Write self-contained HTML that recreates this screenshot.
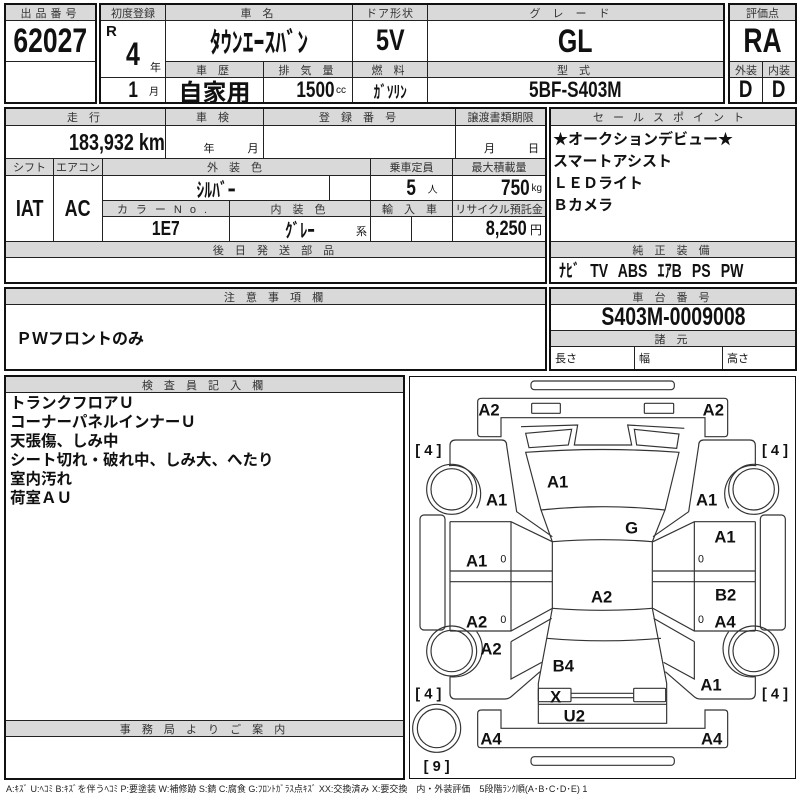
<!DOCTYPE html>
<html><head><meta charset="utf-8"><style>
*{margin:0;padding:0}
body{width:800px;height:800px;background:#fff;position:relative;overflow:hidden;font-family:"Liberation Sans","Noto Sans CJK JP",sans-serif;color:#111}
.b{position:absolute;border:1px solid #222;box-sizing:border-box;display:flex;align-items:center;justify-content:center;overflow:hidden;white-space:nowrap;background:#fff}
.h{background:#d9d9d9;font-size:11px;color:#333;letter-spacing:4px}
.v{font-weight:bold}
.n{display:inline-block;transform:scaleX(.78);font-weight:bold}
.o{position:absolute;border:2px solid #111;box-sizing:border-box;pointer-events:none}
.s{font-size:10px;font-weight:normal;margin-left:2px}
</style></head><body>
<!-- top left -->
<div class="b h" style="left:5px;top:4px;width:91px;height:17px">出品番号</div>
<div class="b v" style="left:5px;top:20px;width:91px;height:42px;font-size:34px"><span class="n">62027</span></div>
<div class="b" style="left:5px;top:61px;width:91px;height:42px"></div>
<div class="o" style="left:4px;top:3px;width:93px;height:101px"></div>
<!-- box2 -->
<div class="b h" style="left:100px;top:4px;width:66px;height:17px;letter-spacing:0">初度登録</div>
<div class="b h" style="left:165px;top:4px;width:188px;height:17px">車 名</div>
<div class="b h" style="left:352px;top:4px;width:76px;height:17px;letter-spacing:1px">ドア形状</div>
<div class="b h" style="left:427px;top:4px;width:297px;height:17px;letter-spacing:12px">グレード</div>
<div class="b" style="left:100px;top:20px;width:66px;height:58px"><span class="v" style="position:absolute;left:5px;top:2px;font-size:15px">R</span><span class="n" style="font-size:32px;margin-top:10px">4</span><span style="position:absolute;right:4px;bottom:2px;font-size:11px">年</span></div>
<div class="b v" style="left:165px;top:20px;width:188px;height:42px;font-size:28px"><span class="n">ﾀｳﾝｴｰｽﾊﾞﾝ</span></div>
<div class="b v" style="left:352px;top:20px;width:76px;height:42px;font-size:30px"><span class="n">5V</span></div>
<div class="b v" style="left:427px;top:20px;width:297px;height:42px;font-size:32px"><span class="n">GL</span></div>
<div class="b h" style="left:165px;top:61px;width:99px;height:17px">車 歴</div>
<div class="b h" style="left:263px;top:61px;width:90px;height:17px">排 気 量</div>
<div class="b h" style="left:352px;top:61px;width:76px;height:17px">燃 料</div>
<div class="b h" style="left:427px;top:61px;width:297px;height:17px">型 式</div>
<div class="b" style="left:100px;top:77px;width:66px;height:26px;justify-content:flex-end;padding-right:6px"><span class="n" style="font-size:22px">1</span><span class="s" style="margin-left:10px">月</span></div>
<div class="b v" style="left:165px;top:77px;width:99px;height:26px;font-size:24px">自家用</div>
<div class="b" style="left:263px;top:77px;width:90px;height:26px;justify-content:flex-end;padding-right:6px"><span class="n" style="font-size:22px;margin-right:-6px">1500</span><span class="s">cc</span></div>
<div class="b v" style="left:352px;top:77px;width:76px;height:26px;font-size:17px"><span class="n">ｶﾞｿﾘﾝ</span></div>
<div class="b v" style="left:427px;top:77px;width:297px;height:26px;font-size:22px"><span class="n">5BF-S403M</span></div>
<div class="o" style="left:99px;top:3px;width:626px;height:101px"></div>
<!-- eval -->
<div class="b h" style="left:729px;top:4px;width:67px;height:17px;letter-spacing:0">評価点</div>
<div class="b v" style="left:729px;top:20px;width:67px;height:42px;font-size:34px"><span class="n">RA</span></div>
<div class="b h" style="left:729px;top:61px;width:34px;height:17px;letter-spacing:0">外装</div>
<div class="b h" style="left:762px;top:61px;width:34px;height:17px;letter-spacing:0">内装</div>
<div class="b v" style="left:729px;top:77px;width:34px;height:26px;font-size:24px"><span class="n">D</span></div>
<div class="b v" style="left:762px;top:77px;width:34px;height:26px;font-size:24px"><span class="n">D</span></div>
<div class="o" style="left:728px;top:3px;width:69px;height:101px"></div>
<!-- block 2 -->
<div class="b h" style="left:5px;top:108px;width:161px;height:18px">走 行</div>
<div class="b h" style="left:165px;top:108px;width:99px;height:18px">車 検</div>
<div class="b h" style="left:263px;top:108px;width:193px;height:18px">登 録 番 号</div>
<div class="b h" style="left:455px;top:108px;width:91px;height:18px;letter-spacing:0">譲渡書類期限</div>
<div class="b" style="left:5px;top:125px;width:161px;height:34px;justify-content:flex-end;padding-right:0"><span class="n" style="font-size:23px;transform-origin:right">183,932 km</span></div>
<div class="b" style="left:165px;top:125px;width:99px;height:34px;align-items:flex-end;font-size:11px;padding-bottom:2px">　　　年　　　月</div>
<div class="b" style="left:263px;top:125px;width:193px;height:34px"></div>
<div class="b" style="left:455px;top:125px;width:91px;height:34px;align-items:flex-end;font-size:11px;padding-bottom:2px">　　月　　　日</div>
<div class="b h" style="left:5px;top:158px;width:49px;height:18px;letter-spacing:0">シフト</div>
<div class="b h" style="left:53px;top:158px;width:50px;height:18px;letter-spacing:0">エアコン</div>
<div class="b h" style="left:102px;top:158px;width:269px;height:18px">外 装 色</div>
<div class="b h" style="left:370px;top:158px;width:83px;height:18px;letter-spacing:0">乗車定員</div>
<div class="b h" style="left:452px;top:158px;width:94px;height:18px;letter-spacing:0">最大積載量</div>
<div class="b v" style="left:5px;top:175px;width:49px;height:67px;font-size:23px"><span class="n">IAT</span></div>
<div class="b v" style="left:53px;top:175px;width:50px;height:67px;font-size:23px"><span class="n">AC</span></div>
<div class="b v" style="left:102px;top:175px;width:228px;height:26px;font-size:20px"><span class="n">ｼﾙﾊﾞｰ</span></div>
<div class="b" style="left:329px;top:175px;width:42px;height:26px"></div>
<div class="b" style="left:370px;top:175px;width:83px;height:26px"><span class="n" style="font-size:22px;margin-left:20px">5</span><span class="s" style="margin-left:10px">人</span></div>
<div class="b" style="left:452px;top:175px;width:94px;height:26px;justify-content:flex-end;padding-right:3px"><span class="n" style="font-size:22px;margin-right:-4px">750</span><span class="s">kg</span></div>
<div class="b h" style="left:102px;top:200px;width:128px;height:17px;letter-spacing:8px">カラーNo.</div>
<div class="b h" style="left:229px;top:200px;width:142px;height:17px">内 装 色</div>
<div class="b h" style="left:370px;top:200px;width:83px;height:17px">輸 入 車</div>
<div class="b h" style="left:452px;top:200px;width:94px;height:17px;letter-spacing:0">リサイクル預託金</div>
<div class="b v" style="left:102px;top:216px;width:128px;height:26px;font-size:20px"><span class="n">1E7</span></div>
<div class="b" style="left:229px;top:216px;width:142px;height:26px"><span class="n" style="font-size:19px">ｸﾞﾚｰ</span><span style="position:absolute;right:3px;bottom:2px;font-size:11px">系</span></div>
<div class="b" style="left:370px;top:216px;width:42px;height:26px"></div>
<div class="b" style="left:411px;top:216px;width:42px;height:26px"></div>
<div class="b" style="left:452px;top:216px;width:94px;height:26px;justify-content:flex-end;padding-right:3px"><span class="n" style="font-size:21px;margin-right:-5px">8,250</span><span class="s" style="font-size:12px">円</span></div>
<div class="b h" style="left:5px;top:241px;width:541px;height:17px">後 日 発 送 部 品</div>
<div class="b" style="left:5px;top:257px;width:541px;height:26px"></div>
<div class="o" style="left:4px;top:107px;width:543px;height:177px"></div>
<!-- sales point -->
<div class="b h" style="left:550px;top:108px;width:246px;height:18px;letter-spacing:9px">セールスポイント</div>
<div class="b" style="left:550px;top:125px;width:246px;height:117px;display:block;font-weight:bold;font-size:15px;line-height:22px;padding:3px 0 0 2px">★オークションデビュー★<br>スマートアシスト<br>ＬＥＤライト<br>Ｂカメラ</div>
<div class="b h" style="left:550px;top:241px;width:246px;height:17px">純 正 装 備</div>
<div class="b" style="left:550px;top:257px;width:246px;height:26px;justify-content:flex-start;padding-left:8px"><span class="n" style="font-size:18px;transform-origin:left;word-spacing:8px">ﾅﾋﾞ TV ABS ｴｱB PS PW</span></div>
<div class="o" style="left:549px;top:107px;width:248px;height:177px"></div>
<!-- caution -->
<div class="b h" style="left:5px;top:288px;width:541px;height:17px">注 意 事 項 欄</div>
<div class="b" style="left:5px;top:304px;width:541px;height:66px;justify-content:flex-start;padding-left:10px;font-weight:bold;font-size:16px">ＰＷフロントのみ</div>
<div class="o" style="left:4px;top:287px;width:543px;height:84px"></div>
<div class="b h" style="left:550px;top:288px;width:246px;height:17px">車 台 番 号</div>
<div class="b v" style="left:550px;top:304px;width:246px;height:27px;font-size:25px"><span class="n">S403M-0009008</span></div>
<div class="b h" style="left:550px;top:330px;width:246px;height:17px">諸 元</div>
<div class="b" style="left:550px;top:346px;width:85px;height:24px;justify-content:flex-start;padding-left:4px;font-size:11px">長さ</div>
<div class="b" style="left:634px;top:346px;width:89px;height:24px;justify-content:flex-start;padding-left:4px;font-size:11px">幅</div>
<div class="b" style="left:722px;top:346px;width:74px;height:24px;justify-content:flex-start;padding-left:4px;font-size:11px">高さ</div>
<div class="o" style="left:549px;top:287px;width:248px;height:84px"></div>
<!-- inspector -->
<div class="b h" style="left:5px;top:376px;width:399px;height:17px">検 査 員 記 入 欄</div>
<div class="b" style="left:5px;top:392px;width:399px;height:329px;display:block;font-weight:bold;font-size:15.5px;line-height:19px;padding:1px 0 0 4px">トランクフロアＵ<br>コーナーパネルインナーＵ<br>天張傷、しみ中<br>シート切れ・破れ中、しみ大、へたり<br>室内汚れ<br>荷室ＡＵ</div>
<div class="b h" style="left:5px;top:720px;width:399px;height:17px">事 務 局 よ り ご 案 内</div>
<div class="b" style="left:5px;top:736px;width:399px;height:43px"></div>
<div class="o" style="left:4px;top:375px;width:401px;height:405px"></div>
<!-- diagram -->
<div class="o" style="left:409px;top:376px;width:387px;height:403px;border-width:1.5px"></div>
<svg style="position:absolute;left:405px;top:375px" width="395" height="410" viewBox="0 0 1185 1230">
<g fill="none" stroke="#333" stroke-width="3.5">
<rect x="378" y="18" width="430" height="26" rx="10"/>
<rect x="378" y="1145" width="430" height="26" rx="10"/>
<path d="M230,70 H958 Q968,70 968,80 V175 Q968,185 958,185 H900 V128 H288 V185 H228 Q218,185 218,175 V80 Q218,70 230,70 Z"/>
<path d="M230,1005 H288 V1060 H900 V1005 H958 Q968,1005 968,1015 V1108 Q968,1118 958,1118 H228 Q218,1118 218,1108 V1015 Q218,1005 230,1005 Z"/>
<rect x="380" y="85" width="86" height="30" rx="3"/>
<rect x="718" y="85" width="88" height="30" rx="3"/>
<path d="M348,155 L518,150 L508,210 L680,210 L668,150 L838,160"/>
<path d="M362,175 L500,163 L490,210 L372,218 Z"/>
<path d="M688,163 L822,177 L815,220 L695,210 Z"/>
<path d="M362,232 Q594,215 822,232 L780,405 L742,500 L742,700 L785,925 L785,1045 L400,1045 L400,925 L442,700 L442,500 L408,405 Z"/>
<path d="M408,405 Q594,385 780,405"/>
<path d="M442,500 Q594,488 742,500"/>
<path d="M442,700 Q594,712 742,700"/>
<path d="M425,790 Q594,805 768,790"/>
<rect x="400" y="940" width="98" height="40" rx="3"/>
<rect x="686" y="940" width="96" height="40" rx="3"/>
<path d="M498,955 H686 M498,968 H686"/>
<path d="M400,988 H785"/>
<g id="side">
<path d="M135,272 V212 Q135,195 152,195 H290 Q305,195 305,212 L335,410 L442,485"/>
<path d="M132,272 A85,85 0 0 1 215,400"/>
<circle cx="140" cy="343" r="75"/><circle cx="140" cy="343" r="62"/>
<rect x="45" y="420" width="75" height="345" rx="12"/>
<path d="M135,440 H318 L442,500 M135,588 H442 M135,620 H442 M135,768 H318 L442,700 M318,440 V768 M135,440 V768"/>
<path d="M318,800 L440,730 M318,800 V912 L410,862"/>
<circle cx="140" cy="828" r="75"/><circle cx="140" cy="828" r="62"/>
<path d="M215,770 A85,85 0 0 1 135,905"/>
<path d="M135,905 V955 Q135,972 152,972 H300 Q312,972 322,962 L405,890"/>
</g>
<use href="#side" transform="translate(1186,0) scale(-1,1)"/>
<circle cx="95" cy="1060" r="72"/><circle cx="95" cy="1060" r="58"/>
</g>
<g font-family="Liberation Sans, sans-serif" font-weight="bold" font-size="50" fill="#111" text-anchor="middle">
<text x="252" y="122">A2</text><text x="925" y="122">A2</text>
<text x="458" y="337">A1</text><text x="275" y="392">A1</text><text x="905" y="392">A1</text>
<text x="680" y="475">G</text><text x="960" y="502">A1</text><text x="215" y="575">A1</text>
<text x="590" y="682">A2</text><text x="962" y="677">B2</text><text x="215" y="757">A2</text>
<text x="960" y="757">A4</text><text x="258" y="839">A2</text><text x="475" y="890">B4</text>
<text x="918" y="947">A1</text><text x="452" y="982">X</text><text x="508" y="1039">U2</text>
<text x="258" y="1109">A4</text><text x="920" y="1109">A4</text>
<g font-size="44" font-weight="bold"><text x="70" y="240">[ 4 ]</text><text x="1110" y="240">[ 4 ]</text><text x="70" y="970">[ 4 ]</text><text x="1110" y="970">[ 4 ]</text><text x="95" y="1188">[ 9 ]</text></g>
<g font-size="32" font-weight="normal"><text x="295" y="562">0</text><text x="888" y="562">0</text><text x="295" y="744">0</text><text x="888" y="744">0</text></g>
</g>
</svg>
<div style="position:absolute;left:6px;top:782px;font-size:9px;white-space:nowrap;color:#222">A:ｷｽﾞ U:ﾍｺﾐ B:ｷｽﾞを伴うﾍｺﾐ P:要塗装 W:補修跡 S:錆 C:腐食 G:ﾌﾛﾝﾄｶﾞﾗｽ点ｷｽﾞ XX:交換済み X:要交換　内・外装評価　5段階ﾗﾝｸ順(A･B･C･D･E) 1</div>
</body></html>
